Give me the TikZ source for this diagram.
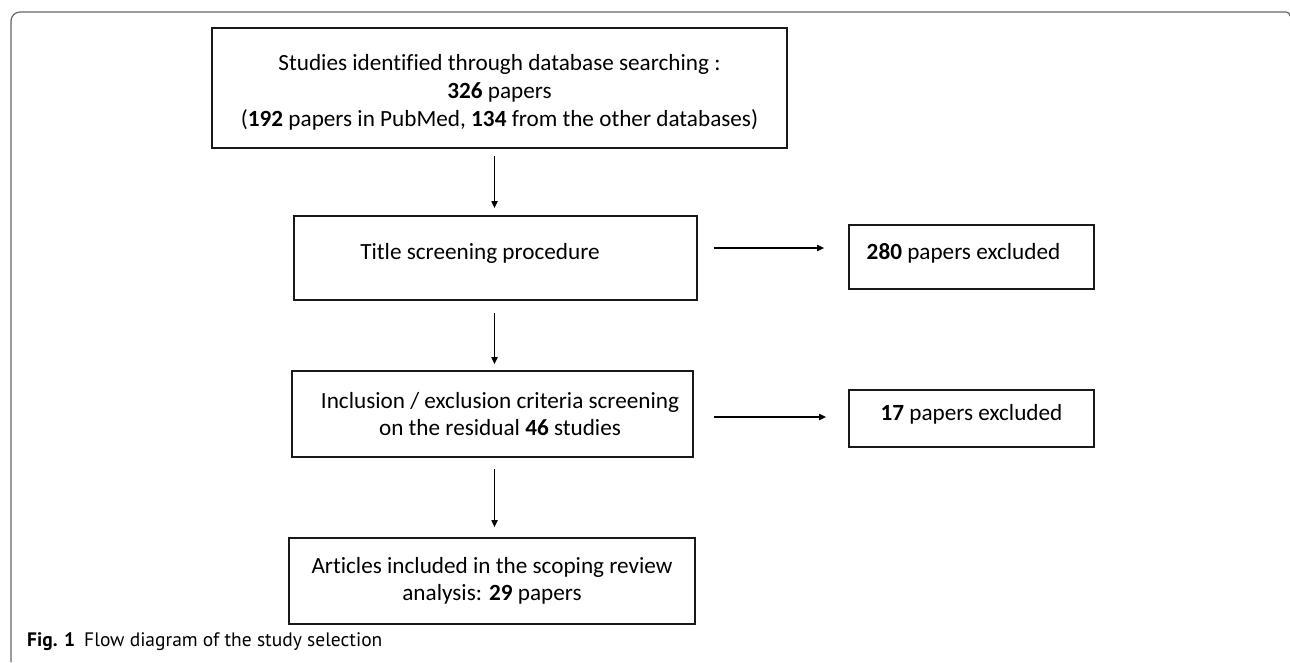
\documentclass[tikz,border=0pt]{standalone}
\usepackage{fontspec}
\setmainfont{Carlito}[Ligatures={NoCommon}]
\newfontfamily\capfont{PT Sans}
\usepackage{tikz}
\usetikzlibrary{arrows.meta}

\tikzset{
  flowbox/.style={draw=black!90, line width=1.6pt, inner sep=0pt,
    font=\fontsize{23.2}{27}\selectfont},
  arr/.style={line width=1.6pt, -{Triangle[length=7pt,width=6pt]}},
  framebar/.style={draw=black!60, line width=1.2pt}
}

\begin{document}
\begin{tikzpicture}[x=1pt, y=-1pt]
\useasboundingbox (0,0) rectangle (1290,662);
%
\draw[framebar] (11,662) -- (11,21) arc (180:270:9) -- (1286,12) arc (270:360:4);
%
\node[flowbox, minimum width=575pt, minimum height=120pt, align=center,
  font=\fontsize{23.2}{28}\selectfont] (search) at (499.5,88)
  {\rule{0pt}{24pt}Studies identified through database searching :\\ \textbf{326} papers\\ (\textbf{192} papers in PubMed, \textbf{134} from the other databases)};
\node[flowbox, minimum width=403pt, minimum height=84pt, text depth=14pt] (title) at (495.5,258)
  {Title screening procedure\hspace{31pt}\mbox{}};
\node[flowbox, minimum width=401pt, minimum height=86pt, align=center] (criteria) at (492.5,414)
  {\hspace{15pt}Inclusion / exclusion criteria screening\\ \hspace{15pt}on the residual \textbf{46} studies};
\node[flowbox, minimum width=406pt, minimum height=86pt, align=center] (included) at (492,581)
  {Articles included in the scoping review\\ analysis: \textbf{29} papers};
%
\node[flowbox, minimum width=245pt, minimum height=64pt, text depth=12pt] (excl1) at (971.5,257)
  {\textbf{280} papers excluded\hspace{16pt}\mbox{}};
\node[flowbox, minimum width=245pt, minimum height=57pt, text depth=12pt] (excl2) at (971.5,418.5)
  {\textbf{17} papers excluded};
%
\coordinate (spine) at (494.5,0);
\draw[arr, shorten <=7pt, shorten >=7pt] (search.south -| spine) -- (title.north -| spine);
\draw[arr, shorten <=12pt, shorten >=6pt] (title.south -| spine) -- (criteria.north -| spine);
\draw[arr, shorten <=11pt, shorten >=10pt] (criteria.south -| spine) -- (included.north -| spine);
%
\draw[arr, shorten <=16pt, shorten >=24pt] ([yshift=10pt]title.east) -- ([yshift=10pt]title.east -| excl1.west);
\draw[arr, shorten <=20pt, shorten >=22pt] ([yshift=1.5pt]criteria.east |- excl2.west) -- ([yshift=1.5pt]excl2.west);
%
\node[anchor=base west, inner sep=0pt, font=\capfont\fontsize{19.5}{22}\selectfont] (caption) at (27,646)
  {\textbf{Fig. 1}\hspace{9pt}Flow diagram of the study selection};
\end{tikzpicture}
\end{document}
